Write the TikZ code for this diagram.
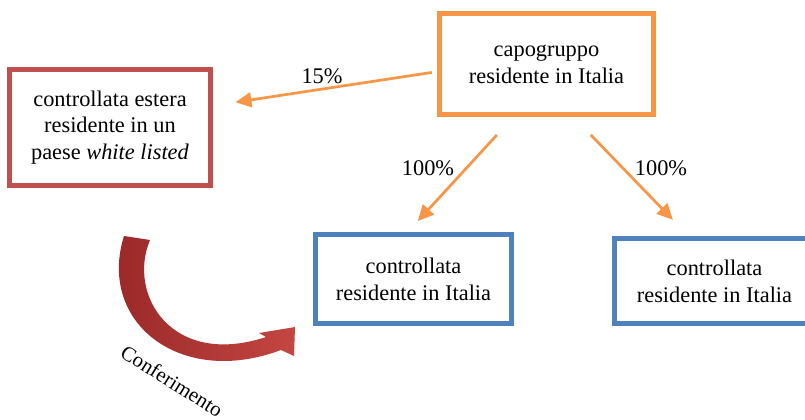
\documentclass[tikz,border=0pt]{standalone}
\usepackage{fontspec}
\setmainfont{Liberation Serif}
\usepackage{tikz}
\usetikzlibrary{arrows.meta}

\definecolor{capoorange}{RGB}{247,150,70}
\definecolor{esterared}{RGB}{192,80,77}
\definecolor{ctrlblue}{RGB}{79,129,189}
\definecolor{confdark}{RGB}{150,38,38}
\definecolor{conflight}{RGB}{196,70,66}

\tikzset{
  box/.style={rectangle, draw, line width=0.125cm, align=center,
    font=\fontsize{15.9}{19.1}\selectfont},
  pct/.style={font=\fontsize{15.9}{19.1}\selectfont},
  quota/.style={draw=capoorange, line width=0.068cm,
    -{Triangle[length=0.4cm,width=0.37cm]}}
}

\begin{document}
\begin{tikzpicture}[x=0.025cm, y=-0.025cm]
          \useasboundingbox (0,0) rectangle (805,420);

          % Boxes
          \node[box, draw=capoorange, minimum width=5.35cm, minimum height=2.525cm] (capo) at (546.5,64) {capogruppo\\residente in Italia};
          \node[box, draw=esterared, minimum width=5cm, minimum height=2.875cm] (estera) at (110,127.5) {controllata estera\\residente in un\\paese \textit{white listed}};
          \node[box, draw=ctrlblue, minimum width=4.9cm, minimum height=2.225cm] (ctrlA) at (413.5,279) {controllata\\residente in Italia};
          \node[box, draw=ctrlblue, minimum width=5cm, minimum height=2.125cm] (ctrlB) at (714.5,281) {controllata\\residente in Italia};

          % Arrows
          \draw[quota, shorten <=0.13cm, shorten >=0.58cm] (capo.184) -- (estera.12);
          \draw[quota, shorten <=0.61cm, shorten >=0.37cm] (capo.238) -- (ctrlA.97);
          \draw[quota, shorten <=0.62cm, shorten >=0.56cm] (capo.297) -- (ctrlB.120);

          % Percentages
          \node[pct] (p15) at (322,76) {15\%};
          \node[pct] (p100a) at (428,168) {100\%};
          \node[pct] (p100b) at (661,168) {100\%};

          % Conferimento
          \shade[left color=confdark, right color=conflight]
            (124,236) -- (150,240) .. controls (127,295) and (172,368) .. (266,337)
            -- (259,333) -- (295,327) -- (294,356) -- (281,350)
            .. controls (180,388) and (97,322) .. (124,236) -- cycle;
          \node[pct, font=\fontsize{14.8}{17}\selectfont, rotate=-32] (conf) at (172,381) {Conferimento};

        \end{tikzpicture}
\end{document}
